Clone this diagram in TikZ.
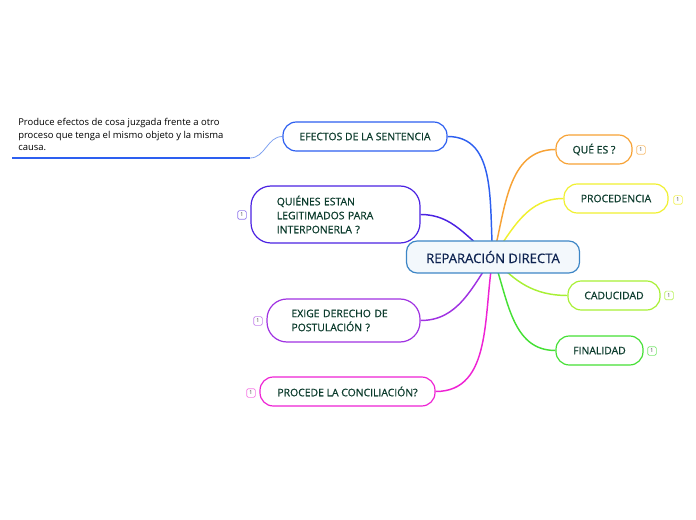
\documentclass[tikz,border=0pt]{standalone}
\usepackage{fontspec}
\setmainfont{Open Sans}
\newfontfamily\topicfont{Open Sans}[FakeBold=0.7]
\usepackage{tikz}
\usetikzlibrary{backgrounds}

\definecolor{txtgreen}{HTML}{0B3B2C}
\definecolor{txtnavy}{HTML}{0D2250}
\definecolor{cblue}{HTML}{2D5FF0}
\definecolor{cnote}{HTML}{7FA2F0}
\definecolor{cindigo}{HTML}{4B22E2}
\definecolor{cviolet}{HTML}{A032E2}
\definecolor{cmagenta}{HTML}{EE22D4}
\definecolor{corange}{HTML}{F7A235}
\definecolor{cyellow}{HTML}{F0F030}
\definecolor{clime}{HTML}{A8F035}
\definecolor{cgreen}{HTML}{45E035}
\definecolor{ccentral}{HTML}{3D86C6}

\begin{document}
\begin{tikzpicture}[
                x=0.75pt, y=-0.75pt,
                topic/.style ={draw, line width=0.9pt, rounded corners=10pt, fill=white,
                        font=\topicfont\fontsize{7.8}{10.5}\selectfont, text=txtgreen,
                        minimum height=21.75pt, inner sep=2pt, align=center},
                tall/.style  ={topic, rounded corners=15pt, align=left, inner sep=0pt},
                hub/.style   ={draw=ccentral, line width=0.9pt, rounded corners=8pt,
                        fill=ccentral!6, font=\topicfont\fontsize{9.8}{11}\selectfont, text=txtnavy,
                        minimum width=129.75pt, minimum height=24pt},
                badge/.style ={draw, rounded corners=1.2pt, fill=white, line width=0.5pt,
                        minimum size=6.5pt, inner sep=0pt,
                        font=\fontsize{4}{4}\selectfont, text=black!80},
                link/.style  ={line width=1.1pt},
                note/.style  ={font=\fontsize{7.1}{9.4}\selectfont, align=left,
                        inner sep=0pt, anchor=north west}
            ]
            \useasboundingbox (0,0) rectangle (696,520);

            %% ---- CENTRE ---------------------------------------------------------
            \node[hub] (rep) at (493,257) {REPARACIÓN DIRECTA};

            %% ---- LEFT branches --------------------------------------------------
            \node[topic, draw=cblue, minimum width=123pt] (efe) at (365,136.5)
                {EFECTOS DE LA SENTENCIA};
            \node[tall, draw=cindigo, minimum width=126.75pt, minimum height=42.75pt,
                text width=88pt] (qui) at (335.5,214.5)
                {QUIÉNES ESTAN\\LEGITIMADOS PARA\\INTERPONERLA ?};
            \node[tall, draw=cviolet, minimum width=114.75pt, minimum height=32.25pt,
                text width=78pt] (exi) at (343.5,320.5)
                {EXIGE DERECHO DE\\POSTULACIÓN ?};
            \node[topic, draw=cmagenta, minimum width=131.25pt] (pro) at (347.5,391.5)
                {PROCEDE LA CONCILIACIÓN?};

            %% ---- RIGHT branches -------------------------------------------------
            \node[topic, draw=corange, minimum width=57pt] (que) at (594,149.5) {QUÉ ES ?};
            \node[topic, draw=cyellow, minimum width=78pt] (prc) at (616,198.5) {PROCEDENCIA};
            \node[topic, draw=clime, minimum width=69pt] (cad) at (614,295.5) {CADUCIDAD};
            \node[topic, draw=cgreen, minimum width=65.25pt] (fin) at (599.5,350.5) {FINALIDAD};

            %% ---- badges ---------------------------------------------------------
            \node[badge, draw=corange!70] (bque) at (641,150) {1};
            \node[badge, draw=cyellow!80] (bprc) at (678,200) {1};
            \node[badge, draw=clime!80] (bcad) at (669,295.5) {1};
            \node[badge, draw=cgreen!70] (bfin) at (652,351) {1};
            \node[badge, draw=cindigo!60] (bqui) at (242,215) {1};
            \node[badge, draw=cviolet!60] (bexi) at (258,321) {1};
            \node[badge, draw=cmagenta!60] (bpro) at (251,393) {1};

            %% ---- note on EFECTOS ------------------------------------------------
            \node[note] (nota) at (18,118)
                {Produce efectos de cosa juzgada frente a otro\\
                 proceso que tenga el mismo objeto y la misma\\
                 causa.};
            \coordinate (ul) at (12,158);
            \coordinate (ur) at (250,158);

            %% ---- connectors -----------------------------------------------------
            \begin{scope}[on background layer]
                \draw[link, cblue]    (rep.center) to[out=95,  in=0]   (efe.east);
                \draw[link, cindigo]  (rep.center) to[out=145, in=0]   (qui.east);
                \draw[link, cviolet]  (rep.center) to[out=-125,in=0]   (exi.east);
                \draw[link, cmagenta] (rep.center) to[out=-100,in=0]   (pro.east);
                \draw[link, corange]  (rep.center) to[out=75,  in=180] (que.west);
                \draw[link, cyellow]  (rep.center) to[out=55,  in=180] (prc.west);
                \draw[link, clime]    (rep.center) to[out=-50, in=180] (cad.west);
                \draw[link, cgreen]   (rep.center) to[out=-70, in=180] (fin.west);
                \draw[line width=1.4pt, cblue] (ul) -- (ur);
                \draw[line width=0.6pt, cnote] (ur) to[out=0, in=180] (efe.west);
            \end{scope}

        \end{tikzpicture}
\end{document}
